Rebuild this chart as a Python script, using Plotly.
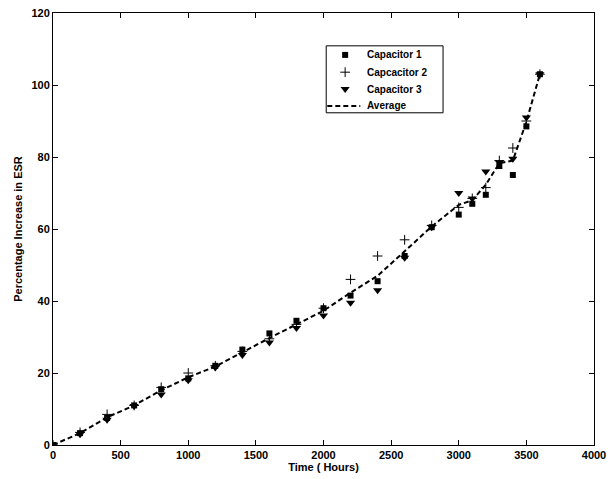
import plotly.graph_objects as go

time_hours = [0, 200, 400, 600, 800, 1000, 1200, 1400, 1600, 1800, 2000, 2200, 2400,
              2600, 2800, 3000, 3100, 3200, 3300, 3400, 3500, 3600]
cap1 = [0, 3.3, 7.5, 11, 15.5, 18.5, 22, 26.5, 31, 34.5, 38, 41.5, 45.5,
        52.5, 60.5, 64, 67, 69.5, 77.5, 75, 88.5, 103]
cap2 = [0, 3.5, 8.5, 11, 16, 20, 22, 26, 29.5, 33.5, 38, 46, 52.5,
        57, 61, 66, 68.5, 71.5, 79, 82.5, 90, 103]
cap3 = [0, 3.0, 7, 10.8, 14, 18, 21.5, 25, 28.5, 32.5, 36, 39.5, 43,
        52, 60.5, 70, 68.5, 76, 78.5, 79.5, 91, 103]
average = [0, 3.3, 7.7, 11, 15.2, 18.8, 21.8, 25.8, 29.7, 33.5, 37.3, 42.3, 47,
           53.8, 60.7, 66.7, 68, 72.3, 78.3, 79, 89.8, 103]

series_names = ["Capacitor 1", "Capcacitor 2", "Capacitor 3", "Average"]

x_ticks = [0, 500, 1000, 1500, 2000, 2500, 3000, 3500, 4000]
y_ticks = [0, 20, 40, 60, 80, 100, 120]

font_family = "Liberation Sans, Arial, sans-serif"

sq = dict(symbol="square", size=6, color="black")
cr = dict(symbol="cross-thin", size=7, color="black", line=dict(width=1, color="black"))
tr = dict(symbol="triangle-down", size=8, color="black")
avg_line = dict(color="black", width=2, dash="5px,3px")

fig = go.Figure()
fig.add_trace(go.Scatter(x=time_hours, y=cap1, mode="markers", name=series_names[0],
                         marker=sq, showlegend=False))
fig.add_trace(go.Scatter(x=time_hours, y=cap2, mode="markers", name=series_names[1],
                         marker=cr, showlegend=False))
fig.add_trace(go.Scatter(x=time_hours, y=cap3, mode="markers", name=series_names[2],
                         marker=tr, showlegend=False))
fig.add_trace(go.Scatter(x=time_hours, y=average, mode="lines", name=series_names[3],
                         line=avg_line, showlegend=False))

# ---- manual legend (compact, MATLAB style), in plot-area fractions ----
leg_x0, leg_x1, leg_y0, leg_y1 = 0.505, 0.721, 0.769, 0.924
row_y = [0.903, 0.863, 0.824, 0.785]
sym_x = 0.540
text_x = 0.577
fig.add_trace(go.Scatter(x=[sym_x], y=[row_y[0]], mode="markers", marker=sq,
                         xaxis="x2", yaxis="y2", showlegend=False, hoverinfo="skip"))
fig.add_trace(go.Scatter(x=[sym_x], y=[row_y[1]], mode="markers", marker=cr,
                         xaxis="x2", yaxis="y2", showlegend=False, hoverinfo="skip"))
fig.add_trace(go.Scatter(x=[sym_x], y=[row_y[2]], mode="markers", marker=tr,
                         xaxis="x2", yaxis="y2", showlegend=False, hoverinfo="skip"))
fig.add_trace(go.Scatter(x=[0.507, 0.568], y=[row_y[3], row_y[3]], mode="lines",
                         line=avg_line, xaxis="x2", yaxis="y2", showlegend=False,
                         hoverinfo="skip"))
fig.add_shape(type="rect", xref="paper", yref="paper", x0=leg_x0, x1=leg_x1,
              y0=leg_y0, y1=leg_y1, line=dict(color="black", width=1),
              fillcolor="rgba(0,0,0,0)", layer="above")
for name, ry in zip(series_names, row_y):
    fig.add_annotation(x=text_x, y=ry, xref="paper", yref="paper", text=f"<b>{name}</b>",
                       showarrow=False, xanchor="left", yanchor="middle",
                       font=dict(family=font_family, size=10, color="black"))

axis_common = dict(showline=True, linecolor="black", linewidth=1, mirror="ticks",
                   ticks="inside", ticklen=5, tickcolor="black", tickwidth=1,
                   showgrid=False, zeroline=False, automargin=False,
                   tickfont=dict(family=font_family, size=11, color="black"))

fig.update_xaxes(range=[0, 4000], tickvals=x_ticks,
                 ticktext=[f"<b>{v}</b>" for v in x_ticks],
                 title=dict(text="<b>Time ( Hours)</b>", standoff=2,
                            font=dict(family=font_family, size=11, color="black")),
                 **axis_common)
fig.update_yaxes(range=[0, 120], tickvals=y_ticks,
                 ticktext=[f"<b>{v}</b>" for v in y_ticks],
                 title=dict(text="<b>Percentage Increase in ESR</b>", standoff=6,
                            font=dict(family=font_family, size=11, color="black")),
                 **axis_common)

fig.update_layout(
    width=615, height=479,
    margin=dict(l=53, r=21, t=13, b=34),
    paper_bgcolor="white", plot_bgcolor="white",
    font=dict(family=font_family, size=11, color="black"),
    xaxis2=dict(overlaying="x", range=[0, 1], visible=False, fixedrange=True),
    yaxis2=dict(overlaying="y", range=[0, 1], visible=False, fixedrange=True),
    showlegend=False,
)

fig.write_html("out.html")
